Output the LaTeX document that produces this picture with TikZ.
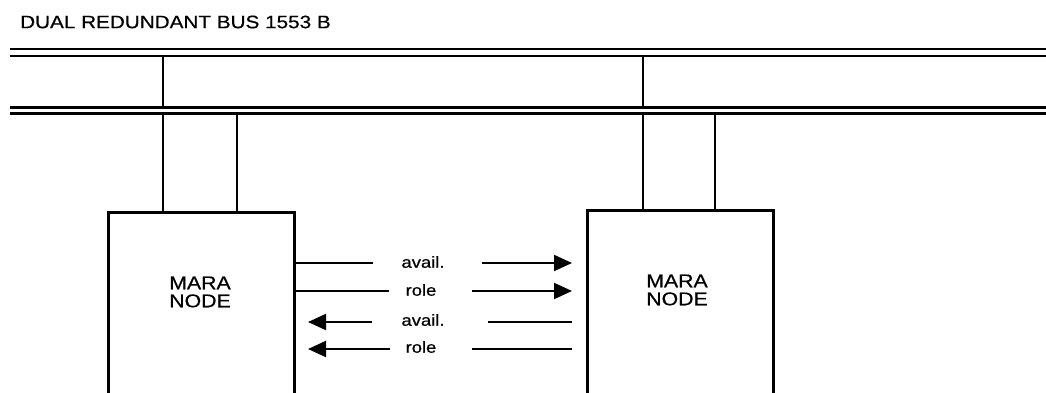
\documentclass[tikz,border=0pt]{standalone}
\usepackage{fontspec}
\setmainfont{Liberation Sans}[FakeBold=0.5]
\usetikzlibrary{arrows.meta}
\begin{document}
\begin{tikzpicture}[x=1pt,y=-1pt,
  bus/.style={line width=2.6pt},
  stub/.style={line width=2.2pt},
  nodebox/.style={draw,line width=2.6pt,minimum width=186pt,minimum height=200pt,inner sep=0pt,anchor=north west},
  sig/.style={line width=2pt},
  sigarrow/.style={line width=2pt,-{Triangle[length=18pt,width=16pt]}},
  lbl/.style={font=\fontsize{16}{16}\selectfont,inner sep=0pt},
  boxlbl/.style={font=\fontsize{18.5}{18}\selectfont,align=center,inner sep=0pt}]
\useasboundingbox (0,0) rectangle (1046,393);
\clip (0,0) rectangle (1046,393);
% title
\node[anchor=west,inner sep=0pt,font=\fontsize{18}{18}\selectfont] (title) at (20,22) {\scalebox{1.15}[1]{DUAL REDUNDANT BUS 1553 B}};
% buses
\coordinate (a1) at (10,49); \coordinate (a2) at (1046,49);
\coordinate (b1) at (10,56); \coordinate (b2) at (1046,56);
\coordinate (c1) at (10,107.5); \coordinate (c2) at (1046,107.5);
\coordinate (d1) at (10,113.5); \coordinate (d2) at (1046,113.5);
\draw[bus] (a1) -- (a2);
\draw[bus] (b1) -- (b2);
\draw[bus] (c1) -- (c2);
\draw[bus] (d1) -- (d2);
% boxes
\node[nodebox] (L) at (107,211) {};
\node[nodebox] (R) at (586,209) {};
\node[boxlbl] (Lt) at (200,292) {\scalebox{1.15}[1]{MARA}\\[0pt]\scalebox{1.15}[1]{NODE}};
\node[boxlbl] (Rt) at (677,290) {\scalebox{1.15}[1]{MARA}\\[0pt]\scalebox{1.15}[1]{NODE}};
% stubs
\draw[stub] (163,56) -- (163,107.5);
\draw[stub] (163,113.5) -- (L.north -| 163,0);
\draw[stub] (237,113.5) -- (L.north -| 237,0);
\draw[stub] (643,56) -- (643,107.5);
\draw[stub] (643,113.5) -- (R.north -| 643,0);
\draw[stub] (715,113.5) -- (R.north -| 715,0);
% signal labels
\node[lbl] (l1) at (423,262) {\scalebox{1.15}[1]{avail.}};
\node[lbl] (l2) at (421,290) {\scalebox{1.15}[1]{role}};
\node[lbl] (l3) at (423,320) {\scalebox{1.15}[1]{avail.}};
\node[lbl] (l4) at (421,347) {\scalebox{1.15}[1]{role}};
% row 1
\coordinate (r1a) at (373,263); \coordinate (r1b) at (482,263); \coordinate (r1c) at (572,263);
\draw[sig] (L.east |- r1a) -- (r1a);
\draw[sigarrow] (r1b) -- (r1c);
% row 2
\coordinate (r2a) at (389,291); \coordinate (r2b) at (472,291); \coordinate (r2c) at (572,291);
\draw[sig] (L.east |- r2a) -- (r2a);
\draw[sigarrow] (r2b) -- (r2c);
% row 3
\coordinate (r3a) at (372,322); \coordinate (r3t) at (308,322); \coordinate (r3b) at (488,322); \coordinate (r3c) at (572,322);
\draw[sigarrow] (r3a) -- (r3t);
\draw[sig] (r3b) -- (r3c);
% row 4
\coordinate (r4a) at (390,349); \coordinate (r4t) at (308,349); \coordinate (r4b) at (472,349); \coordinate (r4c) at (572,349);
\draw[sigarrow] (r4a) -- (r4t);
\draw[sig] (r4b) -- (r4c);
\end{tikzpicture}
\end{document}
